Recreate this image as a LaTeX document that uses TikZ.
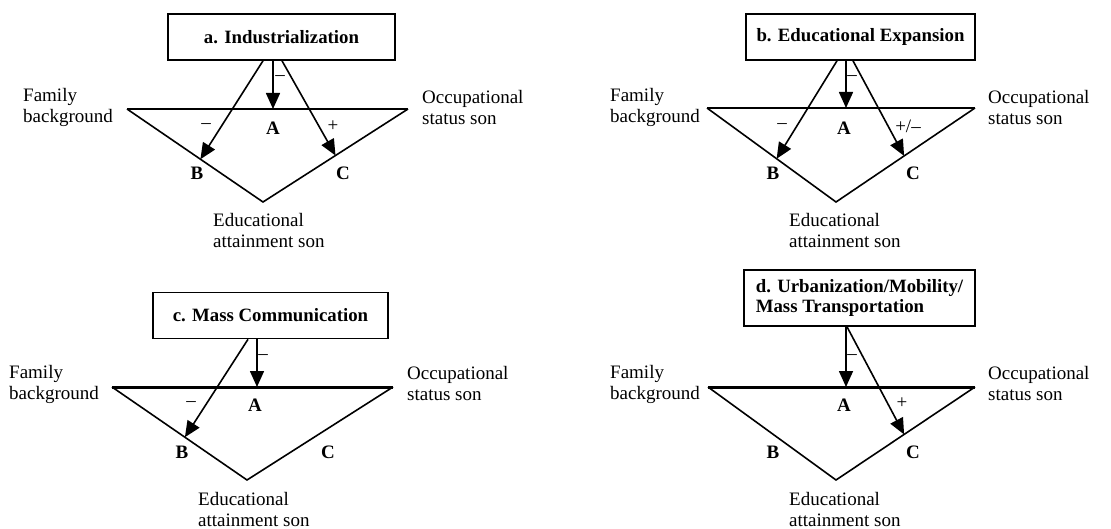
\documentclass[tikz,border=0pt]{standalone}
\usepackage{fontspec}
\setmainfont{Liberation Serif}
\usetikzlibrary{arrows.meta,calc}

\begin{document}
\begin{tikzpicture}[
  x=1pt, y=-1pt,
  font=\fontsize{19}{21}\selectfont,
  box/.style={draw, line width=1.6pt, align=left, minimum width=#1, minimum height=46pt, inner sep=0pt, font=\fontsize{18.8}{20}\selectfont\bfseries},
  note/.style={align=left, anchor=west, inner sep=0pt},
  tag/.style={inner sep=0pt, font=\fontsize{19}{21}\selectfont\bfseries},
  sign/.style={inner sep=0pt},
  edge/.style={line width=1.6pt},
  base/.style={line width=3pt},
  arrow/.style={-{Triangle[length=16pt,width=14pt]}, line width=1.6pt}
]
\useasboundingbox (0,0) rectangle (1111,529);

% a. industrialization
\node[box=227pt] (ind) at (281.5,37) {a. Industrialization};
\coordinate (indL) at (127,109);
\coordinate (indR) at (408,109);
\coordinate (indP) at (263,202);
\draw[edge] (indL) -- (indP) -- (indR);
\draw[edge] (indL) -- (indR);
\node[note] (indfam) at (23,107.5) {Family\\background};
\node[note] (indocc) at (422,107.5) {Occupational\\status son};
\node[note] (indedu) at (213,231) {Educational\\attainment son};
\node[tag] (indA) at (273,128) {A};
\node[tag] (indB) at (197,173) {B};
\node[tag] (indC) at (343,173) {C};
\coordinate (inda) at (273,109);
\coordinate (indb) at ($(indL)!0.54!(indP)$);
\coordinate (indc) at ($(indR)!0.5!(indP)$);
\draw[arrow] ($(ind.south)+(-8.5,0)$) -- (inda);
\draw[arrow] ($(ind.south)+(-18.5,0)$) -- (indb);
\draw[arrow] ($(ind.south)+(0.5,0)$) -- (indc);
\node[sign] (indsa) at (280,78) {–};
\node[sign] (indsb) at (206,126) {–};
\node[sign] (indsc) at (333,126) {+};

% b. educational expansion
\node[box=229pt] (edx) at (860.5,37) {b. Educational Expansion};
\coordinate (edxL) at (707,108);
\coordinate (edxR) at (975,108);
\coordinate (edxP) at (836,202);
\draw[edge] (edxL) -- (edxP) -- (edxR);
\draw[edge] (edxL) -- (edxR);
\node[note] (edxfam) at (610,107.5) {Family\\background};
\node[note] (edxocc) at (988,107.5) {Occupational\\status son};
\node[note] (edxedu) at (789,231) {Educational\\attainment son};
\node[tag] (edxA) at (844,128) {A};
\node[tag] (edxB) at (773,173) {B};
\node[tag] (edxC) at (913,173) {C};
\coordinate (edxa) at (846,108);
\coordinate (edxb) at ($(edxL)!0.54!(edxP)$);
\coordinate (edxc) at ($(edxR)!0.51!(edxP)$);
\draw[arrow] ($(edx.south)+(-14.5,0)$) -- (edxa);
\draw[arrow] ($(edx.south)+(-23.5,0)$) -- (edxb);
\draw[arrow] ($(edx.south)+(-7.5,0)$) -- (edxc);
\node[sign] (edxsa) at (852,78) {–};
\node[sign] (edxsb) at (782,126) {–};
\node[sign] (edxsc) at (908,126) {+/–};

% c. mass communication
\node[box=235pt] (mas) at (270.5,315.5) {c. Mass Communication};
\coordinate (masL) at (112,387);
\coordinate (masR) at (393,387);
\coordinate (masP) at (247,480);
\draw[edge] (masL) -- (masP) -- (masR);
\draw[base] (masL) -- (masR);
\node[note] (masfam) at (9,384) {Family\\background};
\node[note] (masocc) at (407,384) {Occupational\\status son};
\node[note] (masedu) at (198,509) {Educational\\attainment son};
\node[tag] (masA) at (255,405) {A};
\node[tag] (masB) at (182,452) {B};
\node[tag] (masC) at (328,452) {C};
\coordinate (masa) at (257,387);
\coordinate (masb) at ($(masL)!0.54!(masP)$);
\draw[arrow] ($(mas.south)+(-13.5,0)$) -- (masa);
\draw[arrow] ($(mas.south)+(-22.5,0)$) -- (masb);
\node[sign] (massa) at (263,357) {–};
\node[sign] (massb) at (191,404) {–};

% d. urbanization
\node[box=231pt, minimum height=56pt] (urb) at (859.5,298) {d. Urbanization/Mobility/\\Mass Transportation};
\coordinate (urbL) at (708,387);
\coordinate (urbR) at (975,387);
\coordinate (urbP) at (836,480);
\draw[edge] (urbL) -- (urbP) -- (urbR);
\draw[base] (urbL) -- (urbR);
\node[note] (urbfam) at (610,384) {Family\\background};
\node[note] (urbocc) at (988,384) {Occupational\\status son};
\node[note] (urbedu) at (789,509) {Educational\\attainment son};
\node[tag] (urbA) at (844,405) {A};
\node[tag] (urbB) at (773,452) {B};
\node[tag] (urbC) at (913,452) {C};
\coordinate (urba) at (846,387);
\coordinate (urbc) at ($(urbR)!0.51!(urbP)$);
\draw[arrow] ($(urb.south)+(-13.5,0)$) -- (urba);
\draw[arrow] ($(urb.south)+(-12.5,0)$) -- (urbc);
\node[sign] (urbsa) at (852,357) {–};
\node[sign] (urbsc) at (902,403) {+};
\end{tikzpicture}
\end{document}
